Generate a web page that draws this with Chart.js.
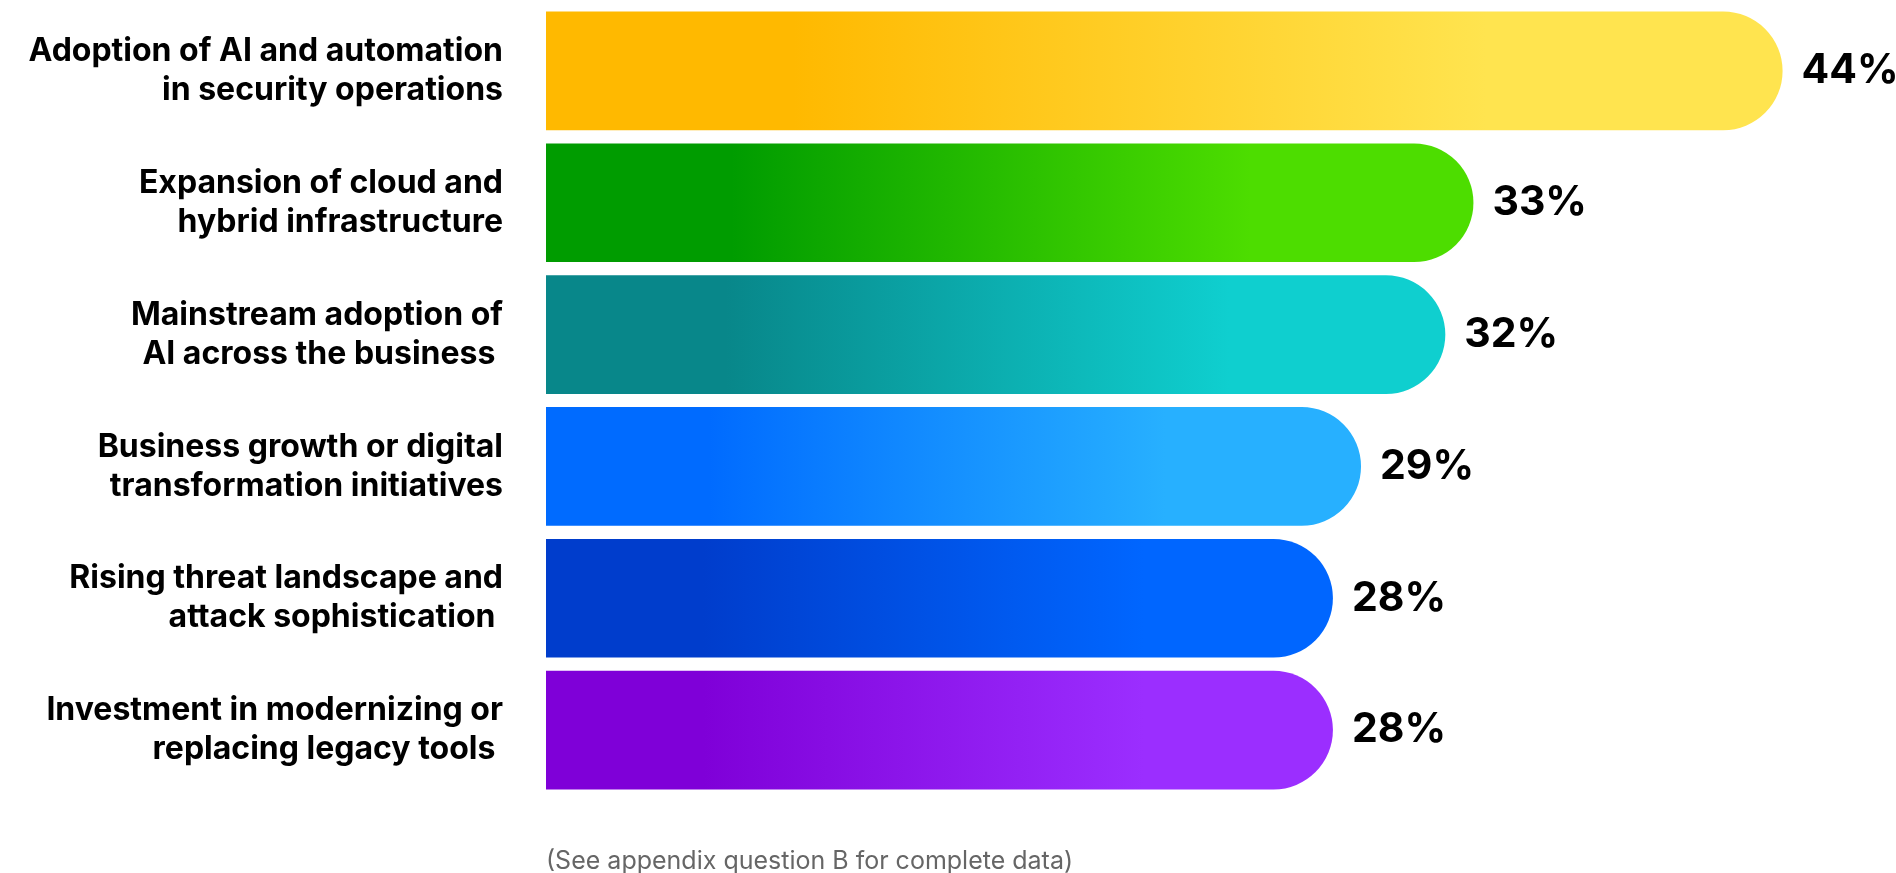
<!DOCTYPE html>
<html>
<head>
<meta charset="utf-8">
<script src="https://cdn.jsdelivr.net/npm/chart.js@4.4.1/dist/chart.umd.min.js"></script>
<style>
  html, body { margin: 0; padding: 0; background: #fff; }
  #wrap { position: relative; width: 1896px; height: 873px; }
  #nota {
    position: absolute; left: 546px; top: 848px;
    font-family: Inter, "Noto Sans", sans-serif; font-size: 25px; line-height: 25px;
    color: #666; white-space: nowrap;
  }
</style>
</head>
<body>
<div id="wrap">
  <canvas id="grafico" width="1896" height="873"></canvas>
  <div id="nota">(See appendix question B for complete data)</div>
</div>
<script>
// dados
const categorias = [
  ['Adoption of AI and automation', 'in security operations'],
  ['Expansion of cloud and', 'hybrid infrastructure'],
  ['Mainstream adoption of', 'AI across the business '],
  ['Business growth or digital', 'transformation initiatives'],
  ['Rising threat landscape and', 'attack sophistication '],
  ['Investment in modernizing or', 'replacing legacy tools ']
];
const valores = [44, 33, 32, 29, 28, 28];
const coresInicio = ['#FFB900', '#009C00', '#08878A', '#006BFF', '#003DCC', '#7F00D8'];
const coresFim = ['#FFE44F', '#4DDD00', '#0FCFCF', '#27B0FF', '#0066FF', '#9B2EFF'];

function gradiente(ctx) {
  const chart = ctx.chart;
  const i = ctx.dataIndex;
  const x = chart.scales.x;
  if (!chart.chartArea || !x || i === undefined) return coresInicio[i || 0];
  const x0 = x.getPixelForValue(0);
  const x1 = x.getPixelForValue(valores[i]);
  const g = chart.ctx.createLinearGradient(x0, 0, x1, 0);
  g.addColorStop(0, coresInicio[i]);
  g.addColorStop(0.2, coresInicio[i]);
  g.addColorStop(0.76, coresFim[i]);
  g.addColorStop(1, coresFim[i]);
  return g;
}

// rótulos de percentual no fim das barras
const rotulosValor = {
  id: 'rotulosValor',
  afterDatasetsDraw(chart) {
    const ctx = chart.ctx;
    const meta = chart.getDatasetMeta(0);
    ctx.save();
    ctx.font = '700 41px Inter, "Noto Sans", sans-serif';
    ctx.fillStyle = '#000';
    ctx.textAlign = 'left';
    ctx.textBaseline = 'middle';
    meta.data.forEach((bar, i) => {
      ctx.fillText(valores[i] + '%', bar.x + 19, bar.y);
    });
    ctx.restore();
  }
};

new Chart(document.getElementById('grafico'), {
  type: 'bar',
  data: {
    labels: categorias,
    datasets: [{
      data: valores,
      backgroundColor: gradiente,
      borderWidth: 0,
      borderRadius: { topLeft: 0, bottomLeft: 0, topRight: 60, bottomRight: 60 },
      borderSkipped: 'start',
      barPercentage: 0.9,
      categoryPercentage: 1
    }]
  },
  options: {
    indexAxis: 'y',
    responsive: false,
    animation: false,
    layout: { padding: { top: 5, bottom: 77, right: 1, left: 0 } },
    plugins: { legend: { display: false }, tooltip: { enabled: false } },
    scales: {
      x: { min: 0, max: 48, display: false },
      y: {
        grid: { display: false, drawTicks: false },
        border: { display: false },
        afterFit(scale) {
          scale.width = 546;
          scale.paddingTop = 0;
          scale.paddingBottom = 0;
        },
        ticks: {
          padding: 43,
          color: '#000',
          font: { family: 'Inter, "Noto Sans", sans-serif', size: 32, weight: '700', lineHeight: 1.22 }
        }
      }
    }
  },
  plugins: [rotulosValor]
});
</script>
</body>
</html>
